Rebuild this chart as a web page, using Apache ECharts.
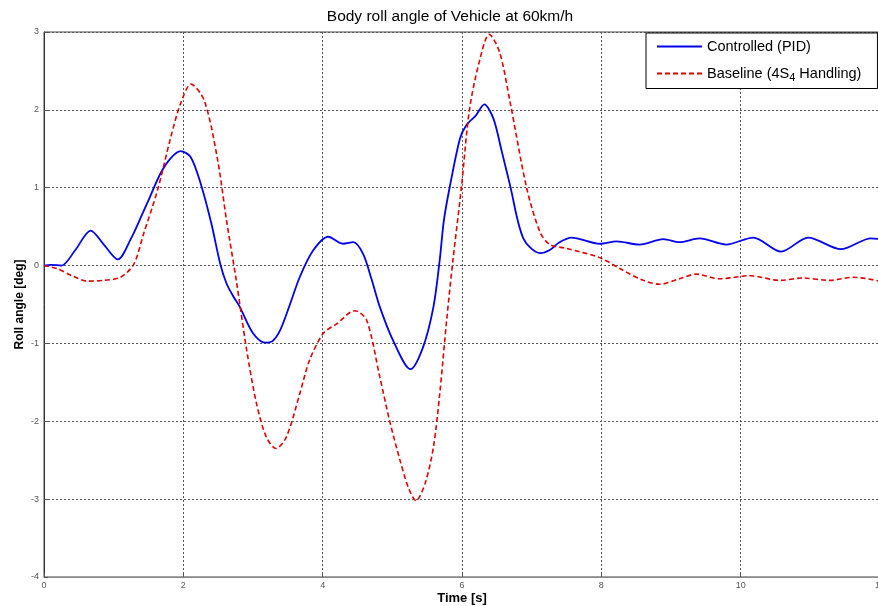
<!DOCTYPE html>
<html>
<head>
<meta charset="utf-8">
<script src="https://cdn.jsdelivr.net/npm/echarts@6/dist/echarts.min.js"></script>
<style>html,body{margin:0;padding:0;background:#fff;overflow:hidden}#c{width:878px;height:606px}</style>
</head>
<body>
<div id="c"></div>
<script>
const xTicks = [0, 2, 4, 6, 8, 10, 12];
const yTicks = [-4, -3, -2, -1, 0, 1, 2, 3];

const pidTime = [0, 0.1, 0.25, 0.45, 0.67, 0.85, 1.06, 1.25, 1.39, 1.52, 1.67, 1.82, 1.96, 2.1, 2.24, 2.4, 2.53, 2.62, 2.72, 2.81, 3.0, 3.17, 3.28, 3.39, 3.53, 3.67, 3.86, 4.08, 4.29, 4.44, 4.58, 4.7, 4.82, 5.01, 5.26, 5.44, 5.59, 5.68, 5.74, 5.82, 5.97, 6.06, 6.2, 6.32, 6.45, 6.57, 6.69, 6.88, 7.12, 7.26, 7.4, 7.57, 7.98, 8.22, 8.55, 8.89, 9.12, 9.41, 9.79, 10.18, 10.58, 10.97, 11.44, 11.87, 12];
const pidRoll = [0, 0.01, 0.0, 0.2, 0.45, 0.28, 0.08, 0.35, 0.62, 0.88, 1.18, 1.38, 1.47, 1.4, 1.08, 0.55, 0.02, -0.23, -0.4, -0.53, -0.87, -0.99, -0.97, -0.83, -0.5, -0.15, 0.19, 0.37, 0.28, 0.30, 0.15, -0.17, -0.53, -0.96, -1.33, -1.05, -0.53, 0.07, 0.58, 0.99, 1.63, 1.80, 1.93, 2.07, 1.89, 1.47, 1.03, 0.35, 0.16, 0.2, 0.3, 0.36, 0.28, 0.31, 0.27, 0.34, 0.30, 0.35, 0.27, 0.36, 0.18, 0.36, 0.21, 0.35, 0.34];

const baseTime = [0, 0.19, 0.4, 0.62, 0.85, 1.1, 1.29, 1.43, 1.63, 1.82, 1.96, 2.11, 2.3, 2.49, 2.62, 2.76, 2.91, 3.05, 3.19, 3.33, 3.48, 3.67, 3.81, 4.01, 4.2, 4.46, 4.63, 4.82, 4.96, 5.11, 5.23, 5.34, 5.47, 5.59, 5.68, 5.78, 5.87, 5.99, 6.11, 6.26, 6.39, 6.54, 6.69, 6.93, 7.12, 7.26, 7.5, 7.98, 8.31, 8.6, 8.84, 9.12, 9.36, 9.7, 10.13, 10.56, 10.89, 11.28, 11.61, 12];
const baseRoll = [0, -0.04, -0.13, -0.2, -0.19, -0.15, 0.02, 0.41, 0.97, 1.65, 2.08, 2.33, 2.12, 1.37, 0.58, -0.19, -1.09, -1.77, -2.2, -2.35, -2.2, -1.65, -1.22, -0.87, -0.75, -0.58, -0.7, -1.43, -1.99, -2.5, -2.85, -3.02, -2.8, -2.33, -1.65, -0.7, 0.07, 0.99, 2.02, 2.66, 2.97, 2.74, 2.1, 0.99, 0.43, 0.27, 0.22, 0.1, -0.06, -0.19, -0.24, -0.17, -0.11, -0.17, -0.13, -0.19, -0.16, -0.19, -0.15, -0.2];

const seriesNames = ['Controlled (PID)', 'Baseline (4S4 Handling)'];

const chart = echarts.init(document.getElementById('c'), null, {renderer: 'canvas', width: 878, height: 606});
const FONT = 'Liberation Sans, Arial, sans-serif';
const gridLine = {show: true, lineStyle: {color: '#555', type: [2, 2], width: 1}};

chart.setOption({
  animation: false,
  backgroundColor: '#fff',
  title: {
    text: 'Body roll angle of Vehicle at 60km/h',
    left: 445, top: 4, textAlign: 'center',
    textStyle: {fontFamily: FONT, fontSize: 15.5, fontWeight: 'normal', color: '#000'}
  },
  grid: {left: 44, top: 32, width: 836, height: 545, show: true, borderColor: '#444', borderWidth: 1,
         containLabel: false, outerBoundsMode: 'none'},
  legend: {
    orient: 'vertical', left: 646, top: 33,
    padding: [6, 16, 5, 10], itemGap: 12, itemWidth: 45, itemHeight: 14,
    borderColor: '#000', borderWidth: 1, backgroundColor: '#fff',
    itemStyle: {opacity: 0},
    data: seriesNames,
    formatter: function (n) { return n === seriesNames[1] ? 'Baseline (4S{sub|4} Handling)' : n; },
    textStyle: {fontFamily: FONT, fontSize: 14.5, color: '#000',
      rich: {sub: {fontFamily: FONT, fontSize: 11, verticalAlign: 'bottom', padding: [9, 0, 0, 0]}}}
  },
  xAxis: {
    type: 'value', min: xTicks[0], max: xTicks[xTicks.length - 1], interval: 2,
    name: 'Time [s]', nameLocation: 'middle', nameGap: 15, nameMoveOverlap: false,
    nameTextStyle: {fontFamily: FONT, fontSize: 13, fontWeight: 'bold', color: '#000'},
    axisLine: {show: true, onZero: false, lineStyle: {color: '#888'}},
    axisTick: {show: true, inside: true, length: 4, lineStyle: {color: '#555'}},
    axisLabel: {fontFamily: FONT, fontSize: 9, color: '#555', margin: 4},
    splitLine: gridLine
  },
  yAxis: {
    type: 'value', min: yTicks[0], max: yTicks[yTicks.length - 1], interval: 1,
    name: 'Roll angle [deg]', nameLocation: 'middle', nameGap: 18, nameMoveOverlap: false,
    nameTextStyle: {fontFamily: FONT, fontSize: 12, fontWeight: 'bold', color: '#000'},
    axisLine: {show: true, onZero: false, lineStyle: {color: '#333'}},
    axisTick: {show: true, inside: true, length: 4, lineStyle: {color: '#555'}},
    axisLabel: {fontFamily: FONT, fontSize: 9, color: '#555', margin: 5},
    splitLine: gridLine
  },
  series: [
    {
      name: seriesNames[0], type: 'line', showSymbol: false, symbol: 'none', smooth: 0.3,
      lineStyle: {color: '#0000ee', width: 1.8},
      itemStyle: {color: '#0000ee'},
      data: pidTime.map((t, i) => [t, pidRoll[i]])
    },
    {
      name: seriesNames[1], type: 'line', showSymbol: false, symbol: 'none', smooth: 0.3,
      lineStyle: {color: '#e00000', width: 1.6, type: [5, 3]},
      itemStyle: {color: '#e00000'},
      data: baseTime.map((t, i) => [t, baseRoll[i]])
    }
  ]
});
</script>
</body>
</html>
